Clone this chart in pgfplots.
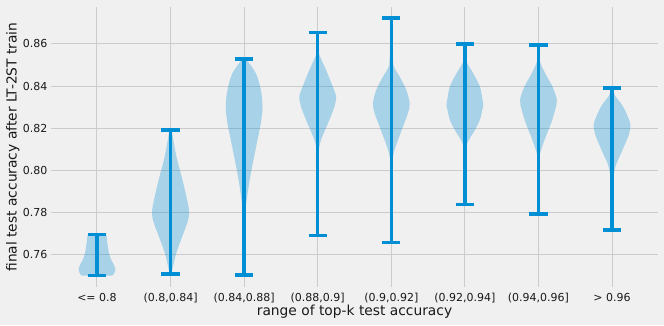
\documentclass[border=0pt]{standalone}
\usepackage{pgfplots}
\pgfplotsset{compat=1.18}
\usepackage{pgfplotstable}
\usepgfplotslibrary{fillbetween}
\usepackage{fontspec}
\setmainfont{DejaVu Sans}
\definecolor{bgcol}{HTML}{F0F0F0}
\definecolor{gridcol}{HTML}{CBCBCB}
\definecolor{c538}{HTML}{008FD5}
\pagecolor{bgcol}

\pgfplotstableread{
y w
0.7502 0.0
0.7502 0.20
0.7510 0.227
0.7529 0.250
0.7553 0.231
0.7576 0.195
0.7608 0.163
0.7655 0.141
0.7698 0.118
0.7698 0.0
}\vA
\pgfplotstableread{
y w
0.7510 0.0
0.7510 0.010
0.7529 0.023
0.7608 0.077
0.7687 0.159
0.7766 0.240
0.7813 0.250
0.7893 0.204
0.7972 0.150
0.8050 0.090
0.8120 0.050
0.8192 0.014
0.8192 0.0
}\vB
\pgfplotstableread{
y w
0.7505 0.002
0.7782 0.005
0.7829 0.023
0.7908 0.054
0.7987 0.091
0.8066 0.136
0.8145 0.181
0.8224 0.227
0.8303 0.250
0.8382 0.227
0.8461 0.159
0.8529 0.023
0.8529 0.0
}\vC
\pgfplotstableread{
y w
0.7691 0.001
0.8050 0.003
0.8098 0.014
0.8145 0.045
0.8192 0.100
0.8240 0.159
0.8303 0.227
0.8350 0.250
0.8398 0.204
0.8477 0.113
0.8564 0.009
0.8655 0.002
}\vD
\pgfplotstableread{
y w
0.7660 0.001
0.8003 0.003
0.8050 0.014
0.8098 0.045
0.8145 0.091
0.8208 0.159
0.8272 0.227
0.8319 0.250
0.8382 0.204
0.8445 0.113
0.8492 0.036
0.8545 0.020
0.8603 0.015
0.8722 0.003
}\vE
\pgfplotstableread{
y w
0.7840 0.001
0.8066 0.004
0.8114 0.018
0.8145 0.054
0.8192 0.136
0.8240 0.204
0.8287 0.236
0.8310 0.250
0.8335 0.240
0.8398 0.204
0.8461 0.113
0.8524 0.014
0.8600 0.003
}\vF
\pgfplotstableread{
y w
0.7794 0.001
0.8019 0.004
0.8066 0.014
0.8098 0.036
0.8161 0.100
0.8224 0.172
0.8287 0.227
0.8335 0.250
0.8398 0.190
0.8461 0.091
0.8524 0.014
0.8595 0.003
}\vG
\pgfplotstableread{
y w
0.7717 0.001
0.7932 0.005
0.7979 0.023
0.8027 0.054
0.8074 0.113
0.8121 0.172
0.8169 0.227
0.8216 0.250
0.8264 0.204
0.8311 0.136
0.8358 0.036
0.8390 0.015
0.8390 0.0
}\vH

\newcommand{\violin}[2]{%
  \addplot[draw=none, name path=L#1, smooth] table[x expr=#1-\thisrow{w}, y=y]{#2};
  \addplot[draw=none, name path=R#1, smooth] table[x expr=#1+\thisrow{w}, y=y]{#2};
  \addplot[fill=c538, fill opacity=0.3, draw=none] fill between[of=L#1 and R#1];
}
\newcommand{\bars}[3]{%
  \addplot[c538, line width=3.5pt] coordinates {(#1,#2) (#1,#3)};
  \addplot[c538, line width=3.5pt] coordinates {(#1-0.125,#2) (#1+0.125,#2)};
  \addplot[c538, line width=3.5pt] coordinates {(#1-0.125,#3) (#1+0.125,#3)};
}

\begin{document}
\begin{tikzpicture}
\begin{axis}[
  at={(51pt,38pt)}, anchor=south west,
  scale only axis, width=607pt, height=280pt,
  xmin=0.375, xmax=8.625, ymin=0.7448, ymax=0.8775,
  axis background/.style={fill=bgcol},
  axis line style={draw=none},
  major tick length=0pt,
  xmajorgrids, ymajorgrids,
  grid style={gridcol, line width=1pt},
  xtick={1,2,3,4,5,6,7,8},
  xticklabels={{<= 0.8},{(0.8,0.84]},{(0.84,0.88]},{(0.88,0.9]},{(0.9,0.92]},{(0.92,0.94]},{(0.94,0.96]},{> 0.96}},
  ytick={0.76,0.78,0.80,0.82,0.84,0.86},
  yticklabel style={/pgf/number format/.cd, fixed, fixed zerofill, precision=2, assume math mode=true},
  ticklabel style={font=\fontsize{11pt}{13pt}\selectfont, text=black!90},
  xticklabel style={anchor=base, yshift=-14pt},
  xlabel={range of top-k test accuracy},
  ylabel={final test accuracy after LT-2ST train},
  label style={font=\fontsize{13.8pt}{16pt}\selectfont, text=black!90},
  xlabel style={at={(axis description cs:0.5,-0.0893)}, anchor=center},
  ylabel style={at={(axis description cs:-0.063,0.5)}, anchor=center},
  clip=false,
]
\violin{1}{\vA}
\violin{2}{\vB}
\violin{3}{\vC}
\violin{4}{\vD}
\violin{5}{\vE}
\violin{6}{\vF}
\violin{7}{\vG}
\violin{8}{\vH}
\bars{1}{0.7502}{0.7698}
\bars{2}{0.7510}{0.8192}
\bars{3}{0.7505}{0.8529}
\bars{4}{0.7691}{0.8655}
\bars{5}{0.7660}{0.8722}
\bars{6}{0.7840}{0.8600}
\bars{7}{0.7794}{0.8595}
\bars{8}{0.7717}{0.8390}
\end{axis}
\pgfresetboundingbox
\path[use as bounding box] (0,0) rectangle (664pt,325pt);
\end{tikzpicture}
\end{document}
